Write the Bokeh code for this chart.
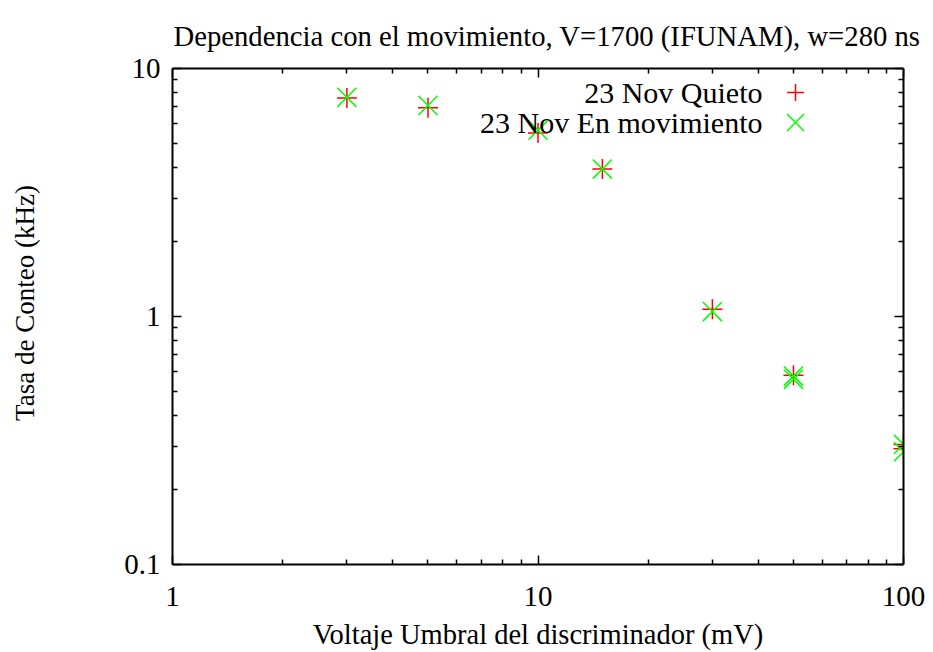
from bokeh.plotting import figure
from bokeh.models import LogAxis, FixedTicker, Legend, LegendItem, Label, CustomJSTickFormatter
from bokeh.embed import file_html
from bokeh.resources import INLINE

# Data
volt_quieto = [3, 5, 10, 15, 30, 50, 100, 100]
rate_quieto = [7.6, 6.95, 5.5, 3.93, 1.07, 0.58, 0.305, 0.293]
volt_mov = [3, 5, 10, 15, 30, 50, 50, 100, 100]
rate_mov = [7.65, 7.1, 5.64, 3.93, 1.047, 0.575, 0.558, 0.305, 0.285]

x_major = [1, 10, 100]
x_minor = [2, 3, 4, 5, 6, 7, 8, 9, 20, 30, 40, 50, 60, 70, 80, 90]
y_major = [0.1, 1, 10]
y_minor = [0.2, 0.3, 0.4, 0.5, 0.6, 0.7, 0.8, 0.9, 2, 3, 4, 5, 6, 7, 8, 9]

title_text = "Dependencia con el movimiento, V=1700 (IFUNAM), w=280 ns"
xlabel = "Voltaje Umbral del discriminador (mV)"
ylabel = "Tasa de Conteo (kHz)"
series_names = ["23 Nov Quieto", "23 Nov En movimiento"]

FONT = "Liberation Serif"

p = figure(x_axis_type="log", y_axis_type="log", x_range=(1, 100), y_range=(0.1, 10),
           frame_width=731, frame_height=496,
           min_border_left=172, min_border_right=22, min_border_top=66, min_border_bottom=80,
           output_backend="svg", toolbar_location=None)

p.grid.visible = False
p.outline_line_color = None

p.title.text = title_text
p.title.text_font = FONT
p.title.text_font_size = "28.7px"
p.title.text_font_style = "normal"
p.title.text_color = "black"
p.title.align = "left"
p.title.offset = 1
p.title.standoff = 34

def style_axis(ax, ticks, minor, labels=True):
    ax.ticker = FixedTicker(ticks=ticks, minor_ticks=minor)
    ax.axis_line_width = 2
    ax.axis_line_color = "black"
    ax.major_tick_in = 9
    ax.major_tick_out = 0
    ax.minor_tick_in = 5
    ax.minor_tick_out = 0
    ax.major_tick_line_width = 1.5
    ax.minor_tick_line_width = 1.5
    ax.major_label_text_font = FONT
    ax.major_label_text_font_size = "29px" if labels else "10px"
    ax.major_label_text_color = "black"
    ax.axis_label_text_font = FONT
    ax.axis_label_text_font_style = "normal"
    ax.axis_label_text_color = "black"
    if not labels:
        ax.formatter = CustomJSTickFormatter(code="return '';")

xa = p.xaxis[0]
ya = p.yaxis[0]
style_axis(xa, x_major, x_minor)
style_axis(ya, y_major, y_minor)
xa.axis_label = xlabel
xa.axis_label_text_font_size = "28.5px"
xa.major_label_standoff = 22
xa.axis_label_standoff = 10
ya.axis_label = "\u00a0\u00a0\u00a0\u00a0" + ylabel
ya.axis_label_text_font_size = "27px"
ya.major_label_standoff = 12
ya.axis_label_standoff = 81
ya.formatter = CustomJSTickFormatter(code="return tick >= 1 ? tick.toFixed(0) : tick.toString();")
xa.formatter = CustomJSTickFormatter(code="return tick.toFixed(0);")

top = LogAxis()
right = LogAxis()
style_axis(top, x_major, x_minor, labels=False)
style_axis(right, y_major, y_minor, labels=False)
top.major_label_standoff = 16
right.major_label_standoff = 0
p.add_layout(top, "above")
p.add_layout(right, "right")

r1 = p.scatter(volt_quieto, rate_quieto, marker="cross", size=20,
               line_color="#ff0000", line_width=1.5)
r2 = p.scatter(volt_mov, rate_mov, marker="x", size=27,
               line_color="#00ff00", line_width=1.5)

def legend_for(r, cx, cy, g):
    lg = Legend(items=[LegendItem(label=" ", renderers=[r])],
                location=(cx - g / 2, cy - g / 2), glyph_width=g, glyph_height=g,
                label_height=g, label_standoff=0,
                label_text_font_size="10px", padding=0, margin=0, spacing=0,
                border_line_alpha=0, background_fill_alpha=0)
    p.add_layout(lg, "center")

legend_for(r1, 623, 472, 42)
legend_for(r2, 623, 442, 60)

for name, sy in zip(series_names, [472, 442]):
    p.add_layout(Label(x=590, y=sy, x_units="screen", y_units="screen", text=name,
                       text_align="right", text_baseline="middle",
                       text_font=FONT, text_font_size="30px", text_color="black"))

open("out.html", "w").write(file_html(p, INLINE))
